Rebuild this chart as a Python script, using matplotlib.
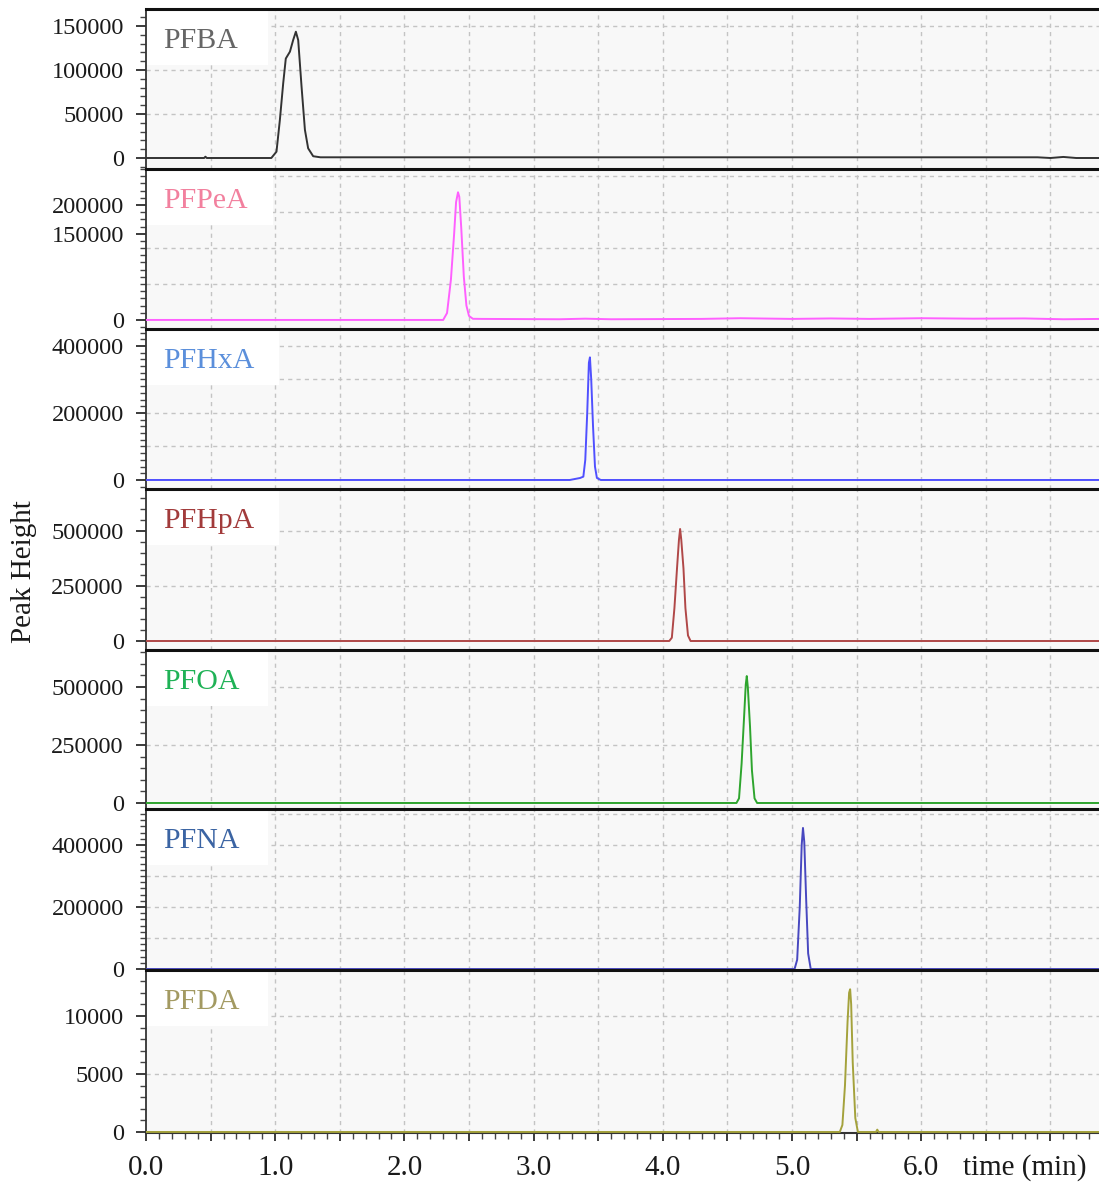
import matplotlib
matplotlib.use("Agg")
import matplotlib.pyplot as plt
from matplotlib.patches import Rectangle
from matplotlib.ticker import MultipleLocator, FixedLocator, FuncFormatter

plt.rcParams['font.family'] = ['Liberation Serif', 'DejaVu Serif']

# compounds, top to bottom
names = ["PFBA", "PFPeA", "PFHxA", "PFHpA", "PFOA", "PFNA", "PFDA"]
label_colors = ["#666666", "#f2809e", "#5b8fdb", "#a23b3b", "#1fb256", "#3b64a3", "#a39a62"]
line_colors = ["#333333", "#ff60ff", "#5050ff", "#b04848", "#2ea52e", "#4848c0", "#a4a23c"]

# retention time (min) / peak height traces
pfba_t = [0.0, 0.45, 0.46, 0.47, 0.97, 1.01, 1.036, 1.062, 1.082, 1.114, 1.139, 1.16,
          1.178, 1.204, 1.23, 1.255, 1.294, 1.35, 6.9, 7.0, 7.1, 7.2, 7.4]
pfba_h = [0, 0, 1500, 0, 0, 7200, 43000, 85000, 113000, 120800, 134000, 143500,
          134000, 81000, 32000, 11000, 2000, 800, 800, 0, 1200, 0, 0]

pfpea_t = [0.0, 2.30, 2.33, 2.36, 2.385, 2.40, 2.415, 2.425, 2.44, 2.46, 2.48, 2.50,
           2.53, 2.6, 3.2, 3.4, 3.6, 4.3, 4.6, 5.0, 5.3, 5.6, 6.0, 6.4, 6.8, 7.1, 7.4]
pfpea_h = [0, 0, 12000, 70000, 150000, 205000, 222000, 214000, 160000, 75000, 25000, 7000,
           2000, 1800, 1200, 2200, 1200, 1800, 3000, 1800, 2600, 1800, 3000, 2200, 2600, 1200, 1800]

pfhxa_t = [0.0, 3.28, 3.32, 3.36, 3.385, 3.40, 3.415, 3.428, 3.436, 3.446, 3.46, 3.475,
           3.49, 3.52, 7.4]
pfhxa_h = [0, 0, 3000, 6000, 10000, 60000, 200000, 350000, 366000, 300000, 160000, 40000,
           6000, 0, 0]

pfhpa_t = [0.0, 4.05, 4.07, 4.09, 4.11, 4.125, 4.134, 4.143, 4.16, 4.175, 4.195, 4.215, 7.4]
pfhpa_h = [0, 0, 15000, 150000, 330000, 460000, 509000, 460000, 330000, 150000, 25000, 0, 0]

pfoa_t = [0.0, 4.57, 4.59, 4.61, 4.63, 4.642, 4.65, 4.658, 4.675, 4.69, 4.71, 4.73, 7.4]
pfoa_h = [0, 0, 20000, 170000, 380000, 510000, 547000, 500000, 330000, 140000, 20000, 0, 0]

pfna_t = [0.0, 5.02, 5.04, 5.06, 5.075, 5.085, 5.095, 5.11, 5.125, 5.145, 7.4]
pfna_h = [0, 0, 30000, 200000, 400000, 455000, 410000, 220000, 50000, 0, 0]

pfda_t = [0.0, 5.37, 5.39, 5.41, 5.43, 5.442, 5.45, 5.458, 5.47, 5.49, 5.51, 5.65, 5.66, 5.67, 7.4]
pfda_h = [0, 0, 600, 4000, 9500, 12000, 12300, 11000, 6000, 1200, 0, 0, 200, 0, 0]

times = [pfba_t, pfpea_t, pfhxa_t, pfhpa_t, pfoa_t, pfna_t, pfda_t]
heights = [pfba_h, pfpea_h, pfhxa_h, pfhpa_h, pfoa_h, pfna_h, pfda_h]

# y axis per panel
yticks = [[0, 50000, 100000, 150000], [0, 150000, 200000], [0, 200000, 400000],
          [0, 250000, 500000], [0, 250000, 500000], [0, 200000, 400000], [0, 5000, 10000]]
grid_steps = [50000, 62500, 100000, 250000, 250000, 100000, 5000]
ylims = [(-12500, 169300), (-15750, 262500), (-26900, 450700), (-40900, 690800),
         (-25900, 659400), (-3200, 516100), (-90, 13960)]

W, H = 1099, 1187
edges = [9, 169, 329, 489, 650, 809, 970, 1133]
x_left = 146
xmax = (W - x_left) / 129.2

fig = plt.figure(figsize=(W / 100, H / 100), dpi=100)
renderer = fig.canvas.get_renderer()

axes = []
for i, name in enumerate(names):
    top, bot = edges[i], edges[i + 1]
    hpx = bot - top
    ax = fig.add_axes([x_left / W, 1 - bot / H, 1 - x_left / W, hpx / H])
    ax.set_facecolor("#f8f8f8")
    ax.set_xlim(0, xmax)
    ax.set_ylim(*ylims[i])

    # grid
    for k in range(1, 15):
        ax.axvline(0.5 * k, color="#c4c4c4", lw=1, ls=(0, (3, 3)), zorder=0)
    g = grid_steps[i]
    v = g
    while v < ylims[i][1]:
        ax.axhline(v, color="#c4c4c4", lw=1, ls=(0, (3, 3)), zorder=0)
        v += g

    ax.plot(times[i], heights[i], color=line_colors[i], lw=1.4, zorder=3)

    ax.yaxis.set_major_locator(FixedLocator(yticks[i]))
    ax.yaxis.set_minor_locator(MultipleLocator(g / 5))
    ax.yaxis.set_major_formatter(FuncFormatter(lambda val, pos: "%d" % val))
    ax.tick_params(axis="y", which="major", length=7, width=1.2, pad=9, labelsize=17.5,
                   colors="#1a1a1a")
    ax.tick_params(axis="y", which="minor", length=4, width=1, colors="#444444")

    ax.spines["right"].set_visible(False)
    ax.spines["bottom"].set_visible(False)
    ax.spines["top"].set_linewidth(2.2)
    ax.spines["top"].set_color("#111111")
    ax.spines["left"].set_linewidth(1.3)
    ax.spines["left"].set_color("#333333")

    # compound name in a white box at the upper left
    txt = ax.text(17 / (W - x_left), 1 - 39 / hpx, name, transform=ax.transAxes,
                  fontsize=21.5, color=label_colors[i], va="baseline", ha="left", zorder=2.2)
    tw = txt.get_window_extent(renderer).width
    box_w = max(tw + 42, 122) / (W - x_left)
    ax.add_patch(Rectangle((0, 1 - 56 / hpx), box_w, 56 / hpx, transform=ax.transAxes,
                           facecolor="white", edgecolor="none", zorder=2.1))

    if i < len(names) - 1:
        ax.tick_params(axis="x", which="both", bottom=False, labelbottom=False)
    axes.append(ax)

# time axis on the bottom panel
bax = axes[-1]
bax.spines["bottom"].set_visible(True)
bax.spines["bottom"].set_linewidth(1.5)
bax.spines["bottom"].set_color("#333333")
bax.xaxis.set_major_locator(MultipleLocator(0.5))
bax.xaxis.set_minor_locator(MultipleLocator(0.1))
bax.xaxis.set_major_formatter(
    FuncFormatter(lambda val, pos: "%.1f" % val if abs(val - round(val)) < 1e-6 and val < 6.5 else ""))
bax.tick_params(axis="x", which="major", length=6, width=1.2, pad=10, labelsize=21,
                colors="#1a1a1a")
bax.tick_params(axis="x", which="minor", length=4, width=1, colors="#444444")

fig.text(1025 / W, 1 - 1168 / H, "time (min)", fontsize=21, ha="center", va="center",
         color="#1a1a1a")
fig.text(24 / W, 1 - 572 / H, "Peak Height", fontsize=21, rotation=90, ha="center",
         va="center", color="#1a1a1a")

fig.savefig("out.png", dpi=100)
